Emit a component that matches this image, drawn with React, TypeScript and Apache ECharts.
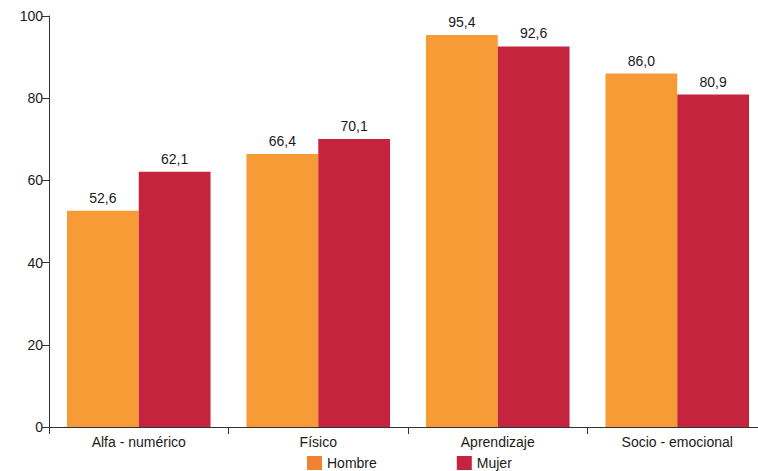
import React, { useEffect, useRef } from "react";
import * as echarts from "echarts";

const categories = ["Alfa - numérico", "Físico", "Aprendizaje", "Socio - emocional"];
const hombre = [52.6, 66.4, 95.4, 86.0];
const mujer = [62.1, 70.1, 92.6, 80.9];
const seriesNames = ["Hombre", "Mujer"];

const FONT = "'Liberation Sans', Arial, sans-serif";

export default function App() {
  const ref = useRef<HTMLDivElement>(null);
  useEffect(() => {
    if (!ref.current) return;
    const chart = echarts.init(ref.current, null, { renderer: "svg" });
    const label = {
      show: true,
      position: "top",
      distance: 6,
      color: "#1a1a1a",
      fontSize: 14,
      fontFamily: FONT,
      formatter: (p: any) => Number(p.value).toFixed(1).replace(".", ","),
    };
    chart.setOption({
      animation: false,
      textStyle: { fontFamily: FONT },
      legend: {
        data: [
          { name: seriesNames[0], itemStyle: { color: "#F08232" } },
          { name: seriesNames[1], itemStyle: { color: "#C5243F" } },
        ],
        left: 307,
        top: 456,
        itemWidth: 15,
        itemHeight: 14,
        itemGap: 80,
        icon: "rect",
        textStyle: { fontSize: 14, color: "#1a1a1a", fontFamily: FONT, padding: [2, 0, 0, 0] },
        padding: 0,
      },
      grid: { left: 49, top: 16, width: 718, height: 411, containLabel: false, outerBoundsMode: "none" },
      xAxis: {
        type: "category",
        data: categories,
        axisLine: { lineStyle: { color: "#333", width: 1 } },
        axisTick: { show: true, length: 7, lineStyle: { color: "#333" } },
        axisLabel: { color: "#1a1a1a", fontSize: 14, fontFamily: FONT, margin: 8 },
      },
      yAxis: {
        type: "value",
        min: 0,
        max: 100,
        interval: 20,
        axisLine: { show: true, lineStyle: { color: "#333", width: 1 } },
        axisTick: { show: true, length: 7, lineStyle: { color: "#333" } },
        splitLine: { show: false },
        axisLabel: { color: "#1a1a1a", fontSize: 14, fontFamily: FONT, margin: 6 },
      },
      series: [
        {
          name: seriesNames[0],
          type: "bar",
          data: hombre,
          itemStyle: { color: "#F79B37" },
          barGap: "0%",
          barCategoryGap: "20%",
          label,
        },
        {
          name: seriesNames[1],
          type: "bar",
          data: mujer,
          itemStyle: { color: "#C5243F" },
          label,
        },
      ],
    });
    return () => chart.dispose();
  }, []);
  return <div ref={ref} style={{ width: 758, height: 471, position: "absolute", left: 0, top: 0 }} />;
}
